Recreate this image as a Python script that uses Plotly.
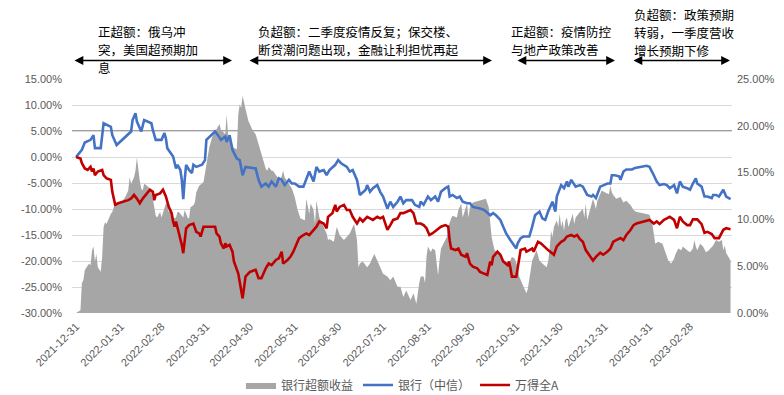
import plotly.graph_objects as go

# ---------------- data ----------------
excess_dates = ["2021-12-31","2022-01-03","2022-01-04","2022-01-05","2022-01-06","2022-01-09","2022-01-10","2022-01-11","2022-01-12","2022-01-13","2022-01-14","2022-01-15","2022-01-17","2022-01-18","2022-01-19","2022-01-20","2022-01-21","2022-01-22","2022-01-24","2022-01-25","2022-01-26","2022-01-29","2022-02-01","2022-02-03","2022-02-05","2022-02-06","2022-02-07","2022-02-09","2022-02-10","2022-02-11","2022-02-12","2022-02-13","2022-02-14","2022-02-15","2022-02-16","2022-02-18","2022-02-20","2022-02-21","2022-02-22","2022-02-23","2022-02-24","2022-02-25","2022-02-27","2022-02-28","2022-03-02","2022-03-03","2022-03-04","2022-03-05","2022-03-07","2022-03-08","2022-03-10","2022-03-11","2022-03-12","2022-03-15","2022-03-16","2022-03-17","2022-03-18","2022-03-19","2022-03-20","2022-03-22","2022-03-23","2022-03-24","2022-03-26","2022-03-29","2022-03-31","2022-04-02","2022-04-04","2022-04-07","2022-04-09","2022-04-10","2022-04-12","2022-04-13","2022-04-14","2022-04-15","2022-04-16","2022-04-18","2022-04-21","2022-04-22","2022-04-23","2022-04-24","2022-04-25","2022-04-26","2022-04-27","2022-04-29","2022-04-30","2022-05-02","2022-05-04","2022-05-06","2022-05-08","2022-05-11","2022-05-12","2022-05-13","2022-05-15","2022-05-16","2022-05-19","2022-05-21","2022-05-23","2022-05-24","2022-05-27","2022-05-29","2022-05-31","2022-06-02","2022-06-04","2022-06-07","2022-06-08","2022-06-09","2022-06-10","2022-06-11","2022-06-13","2022-06-14","2022-06-15","2022-06-17","2022-06-20","2022-06-22","2022-06-23","2022-06-24","2022-06-27","2022-06-29","2022-06-30","2022-07-01","2022-07-04","2022-07-06","2022-07-08","2022-07-10","2022-07-11","2022-07-13","2022-07-14","2022-07-15","2022-07-17","2022-07-20","2022-07-22","2022-07-24","2022-07-25","2022-07-27","2022-07-29","2022-07-31","2022-08-03","2022-08-05","2022-08-07","2022-08-10","2022-08-12","2022-08-14","2022-08-16","2022-08-19","2022-08-21","2022-08-23","2022-08-25","2022-08-26","2022-08-28","2022-08-29","2022-08-30","2022-08-31","2022-09-02","2022-09-03","2022-09-05","2022-09-06","2022-09-07","2022-09-08","2022-09-09","2022-09-12","2022-09-13","2022-09-14","2022-09-15","2022-09-16","2022-09-17","2022-09-20","2022-09-21","2022-09-23","2022-09-24","2022-09-26","2022-09-27","2022-09-28","2022-09-29","2022-10-01","2022-10-06","2022-10-10","2022-10-12","2022-10-13","2022-10-14","2022-10-16","2022-10-19","2022-10-21","2022-10-23","2022-10-26","2022-10-28","2022-10-30","2022-11-01","2022-11-02","2022-11-05","2022-11-07","2022-11-08","2022-11-09","2022-11-10","2022-11-11","2022-11-14","2022-11-15","2022-11-16","2022-11-18","2022-11-21","2022-11-22","2022-11-23","2022-11-24","2022-11-25","2022-11-26","2022-11-28","2022-11-29","2022-11-30","2022-12-01","2022-12-02","2022-12-03","2022-12-04","2022-12-05","2022-12-06","2022-12-08","2022-12-09","2022-12-10","2022-12-11","2022-12-14","2022-12-16","2022-12-17","2022-12-18","2022-12-19","2022-12-21","2022-12-22","2022-12-23","2022-12-24","2022-12-25","2022-12-26","2022-12-28","2022-12-29","2022-12-31","2023-01-03","2023-01-04","2023-01-05","2023-01-06","2023-01-08","2023-01-11","2023-01-13","2023-01-15","2023-01-18","2023-01-20","2023-01-22","2023-01-25","2023-01-28","2023-01-31","2023-02-02","2023-02-03","2023-02-04","2023-02-06","2023-02-09","2023-02-11","2023-02-13","2023-02-15","2023-02-17","2023-02-18","2023-02-20","2023-02-22","2023-02-23","2023-02-26","2023-02-28","2023-03-02","2023-03-03","2023-03-04","2023-03-05","2023-03-07","2023-03-09","2023-03-11","2023-03-13","2023-03-16","2023-03-18","2023-03-20","2023-03-22","2023-03-23","2023-03-24","2023-03-25","2023-03-28"]
excess_vals = [0.0,0.3,3.2,3.5,4.6,5.3,5.1,6.7,7.1,5.5,6.3,4.9,4.4,6.0,9.2,9.7,9.5,9.9,10.6,10.8,11.3,11.7,12.0,12.4,13.1,14.5,13.8,14.5,15.2,16.6,15.2,14.1,13.3,13.1,13.8,13.6,13.3,12.9,12.2,11.0,10.4,10.2,10.8,10.2,11.1,11.7,11.7,10.8,11.0,10.1,10.2,10.8,10.8,10.2,11.0,10.6,10.2,10.1,11.3,11.5,11.8,12.9,13.6,14.0,15.9,17.7,18.8,19.6,20.2,19.6,19.3,19.1,21.2,18.9,18.9,17.7,17.5,21.2,22.3,21.9,23.2,22.3,21.8,20.5,20.2,19.5,19.1,18.0,17.0,15.4,15.2,15.6,15.2,15.2,14.5,14.1,15.2,14.5,13.8,13.3,12.4,11.0,10.1,9.9,12.2,11.3,10.6,11.7,11.0,9.5,12.0,10.2,9.2,8.5,7.8,7.9,7.6,9.2,8.8,8.3,7.8,8.1,8.5,9.2,9.5,7.8,4.9,5.3,5.5,4.9,5.3,6.0,6.3,5.6,4.9,4.2,3.9,3.5,3.9,2.8,2.8,1.7,2.4,1.4,2.1,1.0,3.2,3.9,3.9,3.2,6.0,7.1,6.5,6.9,6.7,5.3,4.0,5.6,6.9,7.8,8.1,9.2,9.7,10.1,10.4,10.2,11.0,11.7,10.2,11.1,11.7,10.2,11.3,11.8,12.0,12.2,11.3,9.5,8.1,6.7,6.3,5.6,5.6,5.3,6.0,5.8,4.9,3.9,2.8,2.1,2.6,3.5,4.4,5.6,6.7,6.0,5.6,5.3,4.9,5.5,6.7,8.8,8.1,9.2,9.9,9.2,10.6,9.2,9.9,8.8,9.9,10.2,9.2,10.1,10.6,9.5,10.2,10.8,11.1,10.2,11.7,9.9,11.0,11.8,12.2,11.7,11.1,12.0,12.7,13.1,12.9,12.7,13.6,12.9,12.6,12.2,12.4,11.8,12.0,11.5,11.0,10.8,10.7,10.6,10.5,9.5,8.3,7.4,7.6,7.4,6.5,5.6,5.3,5.8,6.3,6.9,6.7,7.1,6.7,6.5,6.9,7.8,7.1,6.7,7.4,7.1,6.5,6.7,7.2,7.8,7.6,7.8,6.7,7.2,6.4,5.6]

bank_dates = ["2021-12-31","2022-01-04","2022-01-06","2022-01-10","2022-01-12","2022-01-13","2022-01-17","2022-01-19","2022-01-24","2022-01-25","2022-01-28","2022-02-07","2022-02-08","2022-02-10","2022-02-11","2022-02-14","2022-02-16","2022-02-21","2022-02-22","2022-02-24","2022-02-28","2022-03-02","2022-03-03","2022-03-04","2022-03-08","2022-03-10","2022-03-11","2022-03-13","2022-03-14","2022-03-15","2022-03-16","2022-03-17","2022-03-19","2022-03-21","2022-03-22","2022-03-24","2022-03-28","2022-03-30","2022-03-31","2022-04-02","2022-04-06","2022-04-08","2022-04-10","2022-04-13","2022-04-14","2022-04-16","2022-04-18","2022-04-21","2022-04-23","2022-04-25","2022-04-27","2022-05-04","2022-05-06","2022-05-08","2022-05-11","2022-05-13","2022-05-15","2022-05-18","2022-05-20","2022-05-22","2022-05-24","2022-05-27","2022-05-29","2022-05-31","2022-06-03","2022-06-06","2022-06-08","2022-06-10","2022-06-13","2022-06-15","2022-06-17","2022-06-20","2022-06-22","2022-06-24","2022-06-28","2022-06-30","2022-07-02","2022-07-06","2022-07-08","2022-07-10","2022-07-13","2022-07-15","2022-07-19","2022-07-20","2022-07-22","2022-07-24","2022-07-27","2022-07-29","2022-07-31","2022-08-03","2022-08-05","2022-08-07","2022-08-10","2022-08-12","2022-08-14","2022-08-16","2022-08-20","2022-08-22","2022-08-25","2022-08-26","2022-08-28","2022-08-31","2022-09-02","2022-09-05","2022-09-07","2022-09-09","2022-09-12","2022-09-14","2022-09-15","2022-09-17","2022-09-20","2022-09-22","2022-09-24","2022-09-27","2022-09-29","2022-10-01","2022-10-06","2022-10-09","2022-10-13","2022-10-15","2022-10-17","2022-10-20","2022-10-22","2022-10-24","2022-10-27","2022-10-29","2022-10-31","2022-11-01","2022-11-03","2022-11-05","2022-11-09","2022-11-11","2022-11-13","2022-11-16","2022-11-18","2022-11-20","2022-11-22","2022-11-25","2022-11-27","2022-11-28","2022-12-01","2022-12-03","2022-12-05","2022-12-06","2022-12-08","2022-12-11","2022-12-14","2022-12-16","2022-12-19","2022-12-22","2022-12-23","2022-12-25","2022-12-28","2023-01-02","2023-01-04","2023-01-05","2023-01-07","2023-01-10","2023-01-11","2023-01-13","2023-01-15","2023-01-19","2023-01-21","2023-01-29","2023-01-31","2023-02-03","2023-02-05","2023-02-07","2023-02-10","2023-02-12","2023-02-14","2023-02-17","2023-02-19","2023-02-21","2023-02-23","2023-02-26","2023-02-28","2023-03-02","2023-03-04","2023-03-05","2023-03-08","2023-03-10","2023-03-12","2023-03-15","2023-03-16","2023-03-18","2023-03-20","2023-03-23","2023-03-25","2023-03-28"]
bank_vals = [0.0,1.4,2.8,3.3,4.2,1.7,1.7,6.5,5.8,4.2,2.3,4.9,7.1,8.4,6.8,4.9,7.1,6.5,5.2,3.3,3.3,4.6,3.6,1.7,0.1,-2.2,-1.5,-2.5,-4.4,-8.1,-4.4,-1.5,-2.5,-3.1,-1.5,-1.9,-1.5,-0.6,3.3,3.9,4.9,4.2,3.3,3.9,2.9,4.2,1.4,-0.3,-0.6,-3.5,-1.9,-2.2,-4.4,-5.7,-5.1,-5.7,-4.7,-5.7,-4.1,-4.4,-5.4,-4.4,-5.1,-5.1,-5.7,-5.7,-4.4,-2.8,-4.7,-1.9,-2.8,-2.5,-3.5,-2.5,-1.5,-0.6,-1.2,-1.9,-2.8,-2.5,-4.4,-7.3,-6.3,-5.4,-6.7,-6.0,-5.4,-6.7,-7.6,-9.9,-8.6,-9.6,-8.6,-7.6,-8.9,-8.3,-8.3,-9.2,-9.6,-8.6,-9.2,-7.6,-8.3,-7.6,-8.6,-6.7,-6.0,-5.7,-7.6,-7.3,-7.9,-7.6,-8.6,-8.9,-8.9,-9.6,-9.9,-10.2,-11.2,-10.8,-11.2,-12.1,-13.4,-14.7,-16.0,-16.9,-17.6,-16.6,-15.6,-15.3,-15.3,-13.4,-11.2,-10.5,-11.8,-12.1,-10.5,-8.6,-10.5,-7.6,-5.4,-6.0,-4.7,-5.7,-4.4,-5.7,-5.4,-5.7,-7.3,-7.6,-7.3,-7.9,-5.7,-5.1,-5.1,-3.5,-3.5,-3.7,-4.4,-2.8,-2.4,-2.4,-2.1,-1.7,-1.9,-3.5,-4.7,-5.4,-5.2,-5.4,-6.0,-5.4,-7.0,-4.7,-5.7,-6.0,-6.3,-5.1,-4.1,-5.1,-5.7,-7.6,-7.6,-7.9,-7.3,-7.3,-7.6,-6.3,-7.6,-8.1]

wind_dates = ["2021-12-31","2022-01-03","2022-01-04","2022-01-06","2022-01-08","2022-01-10","2022-01-11","2022-01-12","2022-01-13","2022-01-15","2022-01-18","2022-01-19","2022-01-21","2022-01-24","2022-01-25","2022-01-26","2022-01-27","2022-01-29","2022-02-02","2022-02-05","2022-02-07","2022-02-09","2022-02-11","2022-02-13","2022-02-15","2022-02-18","2022-02-20","2022-02-22","2022-02-23","2022-02-24","2022-02-27","2022-03-01","2022-03-03","2022-03-05","2022-03-07","2022-03-08","2022-03-09","2022-03-10","2022-03-11","2022-03-12","2022-03-14","2022-03-15","2022-03-16","2022-03-17","2022-03-19","2022-03-22","2022-03-24","2022-03-26","2022-03-27","2022-03-29","2022-04-06","2022-04-07","2022-04-09","2022-04-10","2022-04-12","2022-04-13","2022-04-14","2022-04-16","2022-04-18","2022-04-19","2022-04-22","2022-04-24","2022-04-25","2022-04-27","2022-04-30","2022-05-04","2022-05-06","2022-05-08","2022-05-11","2022-05-13","2022-05-15","2022-05-18","2022-05-20","2022-05-22","2022-05-23","2022-05-26","2022-05-28","2022-05-30","2022-06-01","2022-06-03","2022-06-06","2022-06-08","2022-06-10","2022-06-13","2022-06-15","2022-06-17","2022-06-20","2022-06-22","2022-06-23","2022-06-26","2022-06-28","2022-06-29","2022-07-01","2022-07-04","2022-07-06","2022-07-08","2022-07-10","2022-07-13","2022-07-15","2022-07-17","2022-07-20","2022-07-22","2022-07-24","2022-07-27","2022-07-29","2022-07-31","2022-08-03","2022-08-05","2022-08-07","2022-08-10","2022-08-12","2022-08-14","2022-08-16","2022-08-19","2022-08-21","2022-08-23","2022-08-26","2022-08-28","2022-08-30","2022-09-01","2022-09-03","2022-09-06","2022-09-09","2022-09-12","2022-09-14","2022-09-15","2022-09-16","2022-09-19","2022-09-21","2022-09-23","2022-09-26","2022-09-27","2022-09-28","2022-09-29","2022-10-01","2022-10-04","2022-10-06","2022-10-08","2022-10-11","2022-10-13","2022-10-14","2022-10-15","2022-10-18","2022-10-20","2022-10-22","2022-10-25","2022-10-26","2022-10-27","2022-10-28","2022-10-31","2022-11-01","2022-11-03","2022-11-06","2022-11-07","2022-11-09","2022-11-11","2022-11-12","2022-11-15","2022-11-17","2022-11-19","2022-11-22","2022-11-26","2022-11-28","2022-12-01","2022-12-03","2022-12-05","2022-12-08","2022-12-10","2022-12-12","2022-12-14","2022-12-16","2022-12-18","2022-12-21","2022-12-23","2022-12-25","2022-12-28","2022-12-30","2023-01-02","2023-01-04","2023-01-06","2023-01-08","2023-01-11","2023-01-13","2023-01-15","2023-01-18","2023-01-20","2023-01-22","2023-01-25","2023-01-28","2023-01-31","2023-02-03","2023-02-05","2023-02-07","2023-02-10","2023-02-12","2023-02-14","2023-02-17","2023-02-19","2023-02-21","2023-02-23","2023-02-26","2023-02-28","2023-03-02","2023-03-05","2023-03-08","2023-03-10","2023-03-12","2023-03-15","2023-03-17","2023-03-20","2023-03-23","2023-03-25","2023-03-28"]
wind_vals = [0.0,-0.3,-1.2,-2.2,-2.5,-1.9,-2.8,-2.2,-3.5,-2.8,-2.5,-3.5,-4.1,-4.4,-6.7,-8.0,-9.2,-8.9,-8.6,-8.3,-8.0,-7.3,-8.0,-8.9,-8.0,-7.0,-6.3,-6.7,-8.3,-7.3,-7.0,-6.3,-7.6,-9.6,-10.8,-12.4,-13.4,-12.4,-13.4,-14.7,-16.9,-18.5,-16.0,-13.7,-13.1,-12.8,-14.4,-14.7,-15.3,-13.4,-13.4,-14.7,-15.3,-16.6,-17.6,-16.6,-17.2,-16.9,-18.2,-20.1,-22.4,-25.6,-27.2,-23.0,-22.1,-21.7,-23.3,-23.3,-21.4,-20.5,-20.8,-19.8,-19.5,-18.2,-20.5,-19.8,-19.2,-18.2,-16.9,-15.6,-15.0,-14.7,-15.0,-14.0,-13.4,-12.4,-12.8,-13.7,-11.5,-10.8,-9.2,-10.5,-9.6,-9.2,-10.2,-10.2,-11.5,-12.8,-11.8,-12.4,-11.5,-11.8,-12.1,-11.5,-11.8,-11.5,-14.0,-13.1,-12.1,-11.8,-10.8,-10.8,-10.5,-10.2,-10.8,-12.8,-12.8,-13.1,-13.7,-15.0,-14.7,-14.0,-13.4,-13.1,-13.4,-16.0,-17.6,-17.9,-17.6,-18.8,-19.2,-18.5,-19.5,-20.5,-21.1,-21.4,-22.1,-22.4,-22.7,-20.1,-20.8,-19.2,-18.2,-18.8,-20.1,-20.8,-20.1,-21.4,-23.0,-23.0,-21.1,-17.9,-17.6,-18.2,-17.9,-17.6,-18.2,-16.3,-16.6,-17.2,-17.9,-18.8,-17.2,-16.3,-16.0,-15.3,-15.0,-15.3,-15.0,-15.8,-16.3,-17.9,-19.2,-19.9,-19.2,-18.4,-18.8,-18.2,-17.6,-16.3,-16.0,-15.6,-16.0,-15.0,-14.0,-13.1,-12.8,-12.6,-12.4,-12.1,-12.8,-12.4,-12.9,-12.1,-11.8,-11.5,-12.1,-13.7,-11.5,-12.4,-13.1,-13.1,-12.0,-12.0,-12.9,-14.6,-14.4,-14.8,-15.6,-15.6,-14.0,-13.7,-13.9]

x_tick_dates = ["2021-12-31","2022-01-31","2022-02-28","2022-03-31","2022-04-30","2022-05-31","2022-06-30","2022-07-31","2022-08-31","2022-09-30","2022-10-31","2022-11-30","2022-12-31","2023-01-31","2023-02-28"]
left_tick_vals = [15, 10, 5, 0, -5, -10, -15, -20, -25, -30]
left_tick_text = ["15.00%", "10.00%", "5.00%", "0.00%", "-5.00%", "-10.00%", "-15.00%", "-20.00%", "-25.00%", "-30.00%"]
right_tick_vals = [25, 20, 15, 10, 5, 0]
right_tick_text = ["25.00%", "20.00%", "15.00%", "10.00%", "5.00%", "0.00%"]
left_range = [-30, 15]
right_range = [0, 25]
ref_level = 5  # dark reference line on the left axis

series_names = ["银行超额收益", "银行（中信）", "万得全A"]

note_lines = [
    ["正超额：俄乌冲", "突，美国超预期加", "息"],
    ["负超额：二季度疫情反复；保交楼、", "断贷潮问题出现，金融让利担忧再起"],
    ["正超额：疫情防控", "与地产政策改善"],
    ["负超额：政策预期", "转弱，一季度营收", "增长预期下修"],
]

# ---------------- layout geometry (screen pixels) ----------------
W, H = 784, 395
PLOT_L, PLOT_R, PLOT_T, PLOT_B = 72, 732, 79, 313
ML, MT, MR, MB = PLOT_L, PLOT_T, W - PLOT_R, H - PLOT_B
PW, PH = PLOT_R - PLOT_L, PLOT_B - PLOT_T

def px_x(sx):
    return (sx - PLOT_L) / PW

def px_y(sy):
    return (PLOT_B - sy) / PH

def left_to_right(v):
    return right_range[0] + (v - left_range[0]) / (left_range[1] - left_range[0]) * (right_range[1] - right_range[0])

fig = go.Figure()
fig.add_trace(go.Scatter(
    x=excess_dates, y=excess_vals, name=series_names[0], mode="lines",
    line=dict(width=0, color="#A6A6A6"), fill="tozeroy", fillcolor="#A6A6A6",
    yaxis="y"))
fig.add_trace(go.Scatter(
    x=bank_dates, y=bank_vals, name=series_names[1], mode="lines",
    line=dict(width=2.6, color="#4472C4"), yaxis="y2"))
fig.add_trace(go.Scatter(
    x=wind_dates, y=wind_vals, name=series_names[2], mode="lines",
    line=dict(width=2.6, color="#C00000"), yaxis="y2"))

tick_font = dict(family="Liberation Sans, Arial, sans-serif", size=11, color="#595959")

fig.update_layout(
    width=W, height=H,
    margin=dict(l=ML, r=MR, t=MT, b=MB, pad=0, autoexpand=False),
    paper_bgcolor="white", plot_bgcolor="white",
    xaxis=dict(type="date", range=["2021-12-28 04:00", "2023-03-29"],
               tickvals=x_tick_dates, ticktext=x_tick_dates, tickangle=-45,
               tickfont=tick_font, showgrid=False, showline=False, zeroline=False,
               ticks="", ticklabelstandoff=4),
    yaxis=dict(side="right", range=right_range, tickvals=right_tick_vals,
               ticktext=right_tick_text, tickfont=tick_font, showgrid=False,
               zeroline=False, showline=False, ticks="", ticklabelstandoff=4),
    yaxis2=dict(side="left", overlaying="y", anchor="x", range=left_range,
                tickvals=left_tick_vals, ticktext=left_tick_text, tickfont=tick_font,
                showgrid=True, gridcolor="#D9D9D9", gridwidth=1, zeroline=False,
                showline=False, ticks="", ticklabelstandoff=9),
    legend=dict(orientation="h", x=px_x(403), xanchor="center", y=px_y(385), yanchor="middle",
                font=dict(family="Noto Sans CJK SC", size=12, color="#595959"),
                bgcolor="rgba(0,0,0,0)", itemwidth=30, tracegroupgap=0),
    showlegend=True,
)

# dark reference line at the 5% level of the left axis (drawn on primary axis, below traces)
fig.add_shape(type="line", xref="paper", x0=0, x1=1, yref="y",
              y0=left_to_right(ref_level), y1=left_to_right(ref_level),
              line=dict(color="#404040", width=1.2), layer="below")

# annotation text, one annotation per line
NOTE_SIZE = 12.5
LINE_STEP = 18.2
note_font = dict(family="Noto Sans CJK SC", size=NOTE_SIZE, color="#000000")
note_pos = [(97, 31.5), (257, 31.5), (510, 31.5), (633, 14.5)]   # left x, first-line centre y
for lines, (x0, y_first) in zip(note_lines, note_pos):
    for i, txt in enumerate(lines):
        fig.add_annotation(text=txt, xref="paper", yref="paper",
                           x=px_x(x0), y=px_y(y_first + i * LINE_STEP),
                           xanchor="left", yanchor="middle", align="left",
                           showarrow=False, font=note_font, borderpad=0)

arrows = [(73, 232), (248, 492), (516, 615), (632, 730)]
for a0, a1 in arrows:
    fig.add_annotation(text="", xref="paper", yref="paper", x=px_x(a1), y=px_y(60.5),
                       ax=-(a1 - a0), ay=0, axref="pixel", ayref="pixel",
                       showarrow=True, arrowhead=2, arrowside="end+start",
                       arrowsize=1.1, arrowwidth=1.6, arrowcolor="#000000",
                       standoff=0, startstandoff=0)

# remove the default page margin so the figure fills the window exactly
fig.write_html("out.html", config={"displayModeBar": False},
               post_script="document.body.style.margin='0';")
